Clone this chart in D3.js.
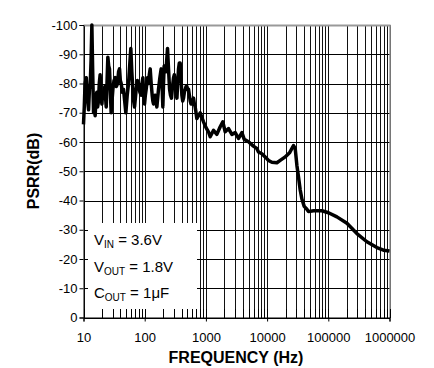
<!DOCTYPE html>
<html><head><meta charset="utf-8">
<script src="https://cdn.jsdelivr.net/npm/d3@7"></script>
<style>body{margin:0;background:#fff;}svg{display:block;font-family:"Liberation Sans",Arial,sans-serif;}</style>
</head><body><svg id="c" width="434" height="368"></svg>
<script>
const freqHz = [
 10,10.3,10.6,11.1,11.5,12.1,12.5,12.9,13.3,13.7,
 14.1,14.6,15.0,15.5,16.0,16.5,17.0,17.6,18.1,18.7,
 19.3,20,20.6,21.2,22.3,23.5,24.2,25,25.8,26.6,
 27.4,28.3,29.2,30.2,31.5,33,34.5,36,37.4,38.8,
 40,41.3,43.2,45.1,47.1,49.2,51.8,54.4,56.8,59.3,
 61.6,64,66,68.2,70.4,72.6,75.9,79.3,83.5,87.7,
 90.5,93.3,96.3,99.4,102.5,105.7,110.6,115.5,119,123,
 127.7,132.5,135.9,139.3,143.8,148.3,153,158,163,168,
 177,186,192,198,203,208,215,222,229,236,
 245,255,264,274,285,296,305,315,325,336,
 346,357,368,380,392,405,418,431,445,459,
 474,489,504,520,537,554,572,590,609,628,
 648,668,690,711,
 807,914,1000,1100,1175,1332,1510,1713,1890,2066,
 2344,2660,3015,3415,3875,4230,4970,5970,6780,7230,
 8220,9310,10550,11970,14450,16370,19770,23240,27000,28770,
 30680,32600,34750,37050,40400,44700,47450,57250,78500,100700,
 138300,201500,293300,427300,622500,797600,1000000];
const psrrDb = [
 -66,-72,-80,-82,-76,-71,-78,-80,-88,-100,
 -85,-70,-74,-69,-75,-77,-72,-74,-80,-83,
 -76,-73,-77,-75,-79,-72,-80,-89,-86,-85,
 -78,-70,-74,-78,-81,-82,-79,-80,-84,-85,
 -81,-80,-77,-78,-74,-70,-76,-80,-86,-92,
 -84,-78,-74,-72,-75,-78,-81,-80,-77,-76,
 -80,-82,-77,-73,-76,-78,-82,-80,-83,-85,
 -80,-76,-74,-73,-75,-76,-74,-72,-75,-78,
 -82,-85,-80,-72,-80,-86,-85,-84,-88,-92,
 -85,-78,-76,-75,-79,-82,-83,-80,-77,-75,
 -80,-85,-87,-87,-82,-76,-74,-75,-77,-78,
 -79,-79,-78,-78,-76,-74,-73,-73,-74,-75,
 -73,-72,-70,-68,
 -70,-66.9,-65,-63.5,-61.8,-64,-62.6,-65.2,-66.9,-63.5,
 -64.6,-62.6,-63.2,-61.2,-63.2,-60.9,-60.1,-58.6,-57.8,-56.6,
 -56,-54.9,-53.7,-53.1,-52.9,-53.7,-54.9,-56.3,-58.8,-57.8,
 -52,-48,-43.6,-40.5,-38,-37,-36.2,-36.5,-36.5,-35.8,
 -34.4,-32.2,-28.7,-25.9,-23.9,-23,-22.7];
const xTicks = [10,100,1000,10000,100000,1000000];
const yTicks = [0,-10,-20,-30,-40,-50,-60,-70,-80,-90,-100];
const legendLines = [["V","IN"," = 3.6V"],["V","OUT"," = 1.8V"],["C","OUT"," = 1\u03bcF"]];

const svg = d3.select("#c");
const L=83.5,R=389.5,T=25,B=317.5;
const x = d3.scaleLog().domain([10,1e6]).range([L,R]);
const y = d3.scaleLinear().domain([-100,0]).range([T,B]);

const vgrid=[];
for(let d=10; d<1e6; d*=10) for(let k=1;k<10;k++) vgrid.push(d*k);
vgrid.push(1e6);
const g = svg.append("g").attr("shape-rendering","crispEdges");
g.selectAll("line.v").data(vgrid).join("line")
  .attr("x1",d=>Math.round(x(d))+0.5).attr("x2",d=>Math.round(x(d))+0.5)
  .attr("y1",T).attr("y2",B).attr("stroke","#111").attr("stroke-width",d=>[10000,100000].includes(d)?1.6:1);
g.selectAll("line.h").data(yTicks).join("line")
  .attr("x1",L).attr("x2",R).attr("y1",d=>Math.round(y(d))+0.5).attr("y2",d=>Math.round(y(d))+0.5)
  .attr("stroke","#000");
svg.append("line").attr("x1",L).attr("x2",R+1).attr("y1",T+0.5).attr("y2",T+0.5).attr("stroke","#999").attr("stroke-width",2);
svg.append("line").attr("x1",R+0.5).attr("x2",R+0.5).attr("y1",T).attr("y2",B).attr("stroke","#999").attr("stroke-width",1.5);

svg.append("rect").attr("x",88).attr("y",223).attr("width",109).attr("height",B-223).attr("fill","#fff");
svg.append("g").attr("shape-rendering","crispEdges").selectAll("line").data(vgrid).join("line")
  .attr("x1",d=>Math.round(x(d))+0.5).attr("x2",d=>Math.round(x(d))+0.5)
  .attr("y1",B-9).attr("y2",B).attr("stroke","#000");

const yAxis = d3.axisLeft(y).tickValues(yTicks).tickSize(4).tickFormat(d=>String(d));
const ya = svg.append("g").attr("transform",`translate(${L},0)`).call(yAxis);
ya.select(".domain").attr("stroke","#000");
ya.selectAll("text").attr("font-size",13).attr("font-family","Liberation Sans, Arial").attr("fill","#000").attr("x",-6);
const xAxis = d3.axisBottom(x).tickValues(xTicks).tickSize(4).tickFormat(d=>String(d));
const xa = svg.append("g").attr("transform",`translate(0,${B})`).call(xAxis);
xa.select(".domain").attr("stroke","#000");
xa.selectAll("text").attr("font-size",13).attr("font-family","Liberation Sans, Arial").attr("fill","#000").attr("y",15);

legendLines.forEach((ln,i)=>{
  const t = svg.append("text").attr("x",94).attr("y",245+i*26.5).attr("font-size",15).attr("fill","#000");
  t.append("tspan").text(ln[0]);
  t.append("tspan").text(ln[1]).attr("font-size",10).attr("dy",3);
  t.append("tspan").text(ln[2]).attr("dy",-3);
});

const pts = freqHz.map((f,i)=>[f,psrrDb[i]]);
svg.append("path").datum(pts)
  .attr("d",d3.line().x(d=>x(d[0])).y(d=>y(d[1])))
  .attr("fill","none").attr("stroke","#000").attr("stroke-width",3.5).attr("stroke-linejoin","round");

svg.append("text").attr("x",236).attr("y",363).attr("text-anchor","middle").attr("font-size",16).attr("font-weight","bold").text("FREQUENCY (Hz)");
svg.append("text").attr("transform","translate(39,171) rotate(-90)").attr("text-anchor","middle").attr("font-size",16).attr("font-weight","bold").text("PSRR(dB)");
</script></body></html>
